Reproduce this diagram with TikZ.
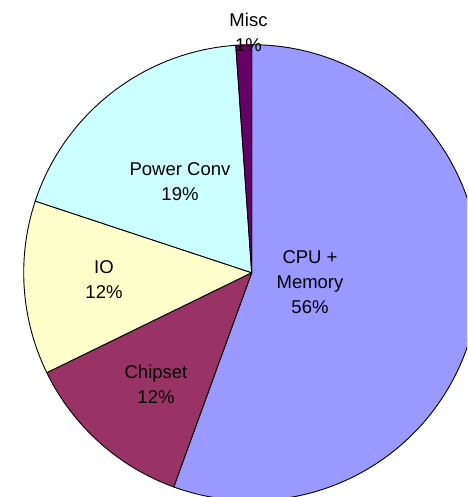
\documentclass[tikz,border=0pt]{standalone}
\usepackage{fontspec}
\setmainfont{Liberation Sans}
\definecolor{cpuc}{HTML}{9999FF}
\definecolor{chipc}{HTML}{993366}
\definecolor{ioc}{HTML}{FFFFCC}
\definecolor{powc}{HTML}{CCFFFF}
\definecolor{miscc}{HTML}{660066}
\tikzset{
  sector/.style={draw=black, line width=0.9pt, line join=round},
  pielabel/.style={align=center, inner sep=0pt, text=black, font=\fontsize{18.5}{25}\selectfont}
}
\begin{document}
\begin{tikzpicture}[x=1pt,y=1pt]
\useasboundingbox (0,0) rectangle (467,497);
\clip (0,0) rectangle (467,497);
\def\R{228}
\coordinate (c) at (251.7,224.3);
\filldraw[sector, fill=cpuc] (c) -- ++(90:\R) arc[start angle=90, end angle=-110, radius=\R] -- cycle;
\filldraw[sector, fill=chipc] (c) -- ++(250:\R) arc[start angle=250, end angle=206, radius=\R] -- cycle;
\filldraw[sector, fill=ioc] (c) -- ++(206:\R) arc[start angle=206, end angle=161.7, radius=\R] -- cycle;
\filldraw[sector, fill=powc] (c) -- ++(161.7:\R) arc[start angle=161.7, end angle=94, radius=\R] -- cycle;
\filldraw[sector, fill=miscc] (c) -- ++(94:\R) arc[start angle=94, end angle=90, radius=\R] -- cycle;
\node[pielabel] (lcpu) at (310,215.3) {CPU +\\Memory\\56\%};
\node[pielabel] (lchip) at (156,112.8) {Chipset\\12\%};
\node[pielabel] (lio) at (104,217) {IO\\12\%};
\node[pielabel] (lpow) at (180,315.5) {Power Conv\\19\%};
\node[pielabel] (lmisc) at (248.5,464.6) {Misc\\1\%};
\end{tikzpicture}
\end{document}
